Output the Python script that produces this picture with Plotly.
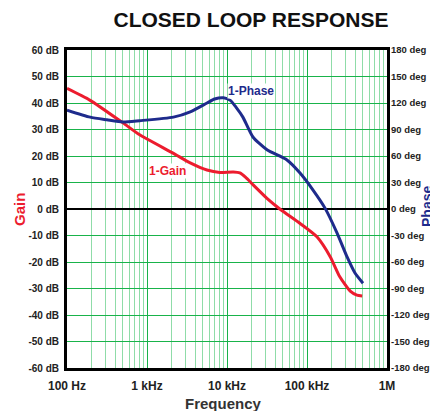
import plotly.graph_objects as go

# ---- data ----
gain_freq = [100, 195, 500, 810, 2140, 3470, 5620, 8130, 12000, 14500, 17000,
             21400, 31600, 45700, 81300, 133000, 195000, 257000, 347000, 420000, 490000]
gain_db = [45.5, 41, 32.5, 28, 21, 17.4, 14.7, 13.8, 14, 13.6, 12,
           9, 4, 0, -5.4, -10.5, -18, -25.6, -31, -32.5, -32.8]

phase_freq = [100, 195, 316, 500, 810, 2140, 3470, 5620, 7000, 9000, 11000, 13000,
              15800, 21100, 31600, 56200, 81300, 119000, 168000, 237000, 316000, 398000, 501000]
phase_deg = [112, 104, 101, 98.5, 100, 104, 110, 120, 124.5, 126, 123, 115,
             104, 81.5, 67, 55.5, 41, 21.5, 1, -27, -54, -72.5, -84]

x_tick_vals = [100, 1000, 10000, 100000, 1000000]
x_tick_text = ["100 Hz", "1 kHz", "10 kHz", "100 kHz", "1M"]
x_minor_vals = [m * 10 ** d for d in range(2, 6) for m in range(2, 10)]
gain_ticks = list(range(-60, 61, 10))
gain_tick_text = [f"{v} dB" for v in gain_ticks]
phase_ticks = list(range(-180, 181, 30))
phase_tick_text = [f"{v} deg" for v in phase_ticks]

RED = "#ec1c2e"
BLUE = "#1e2b8c"
GRID = "#19b34a"
MINOR = "#8fdca8"
SANS = "Liberation Sans, Arial, sans-serif"

# page has an 8px body margin, so the figure is drawn 8px smaller / shifted
OFF = 8
W, H = 438 - OFF, 411 - OFF
L, T = 67 - OFF, 50 - OFF
R = W - (387 - OFF)
B = H - (368 - OFF)
PW, PH = W - L - R, H - T - B


def px_x(page_x):
    return (page_x - OFF - L) / PW


def px_y(page_y):
    return (T + PH - (page_y - OFF)) / PH


fig = go.Figure()
fig.add_trace(go.Scatter(x=gain_freq, y=gain_db, mode="lines",
                         line=dict(color=RED, width=3, shape="spline", smoothing=0.6),
                         showlegend=False))
fig.add_trace(go.Scatter(x=phase_freq, y=phase_deg, mode="lines", yaxis="y2",
                         line=dict(color=BLUE, width=3, shape="spline", smoothing=0.6),
                         showlegend=False))

fig.update_layout(
    width=W, height=H,
    margin=dict(l=L, r=R, t=T, b=B, autoexpand=False),
    paper_bgcolor="white", plot_bgcolor="white",
    title=dict(text="CLOSED LOOP RESPONSE", x=(251 - OFF) / W, xanchor="center",
               y=1 - (20 - OFF) / H, yanchor="middle", automargin=False,
               font=dict(family=SANS, size=21, color="#111", weight="bold")),
    xaxis=dict(type="log", range=[2, 6], automargin=False,
               tickmode="array", tickvals=x_tick_vals, ticktext=x_tick_text,
               tickfont=dict(family=SANS, size=12, color="#222", weight="bold"),
               showgrid=True, gridcolor=GRID, gridwidth=1,
               minor=dict(tickmode="array", tickvals=x_minor_vals, showgrid=True,
                          gridcolor=MINOR, gridwidth=1, ticks=""),
               showline=True, linecolor="black", linewidth=3, mirror=True,
               ticks="", ticklabelstandoff=5),
    yaxis=dict(range=[-60, 60], automargin=False,
               tickmode="array", tickvals=gain_ticks, ticktext=gain_tick_text,
               tickfont=dict(family=SANS, size=10, color="#222", weight="bold"),
               showgrid=True, gridcolor=GRID, gridwidth=1.3,
               zeroline=True, zerolinecolor="black", zerolinewidth=1.5,
               showline=True, linecolor="black", linewidth=3, mirror=True,
               ticks="", ticklabelstandoff=3),
    yaxis2=dict(range=[-180, 180], overlaying="y", side="right", automargin=False,
                tickmode="array", tickvals=phase_ticks, ticktext=phase_tick_text,
                tickfont=dict(family=SANS, size=9.5, color="#222", weight="bold"),
                showgrid=False, zeroline=False, showline=False,
                ticks="", ticklabelstandoff=3),
)

fig.add_annotation(text="Frequency", xref="paper", yref="paper",
                   x=px_x(223), y=px_y(403),
                   xanchor="center", yanchor="middle", showarrow=False,
                   font=dict(family=SANS, size=15, color="#333", weight="bold"))
fig.add_annotation(text="Gain", textangle=-90, xref="paper", yref="paper",
                   x=px_x(19), y=px_y(210), xanchor="center", yanchor="middle",
                   showarrow=False,
                   font=dict(family=SANS, size=15, color=RED, weight="bold"))
fig.add_annotation(text="Phase", textangle=-90, xref="paper", yref="paper",
                   x=px_x(427), y=px_y(207), xanchor="center", yanchor="middle",
                   showarrow=False,
                   font=dict(family=SANS, size=14, color=BLUE, weight="bold"))
fig.add_annotation(text="1-Gain", x=3.26, y=14.3, xref="x", yref="y", showarrow=False,
                   bgcolor="white", borderpad=0, xanchor="center", yanchor="middle",
                   font=dict(family=SANS, size=12, color=RED, weight="bold"))
fig.add_annotation(text="1-Phase", x=4.3, y=44.5, xref="x", yref="y", showarrow=False,
                   bgcolor="white", borderpad=0, xanchor="center", yanchor="middle",
                   font=dict(family=SANS, size=12, color=BLUE, weight="bold"))

fig.write_html("out.html")
